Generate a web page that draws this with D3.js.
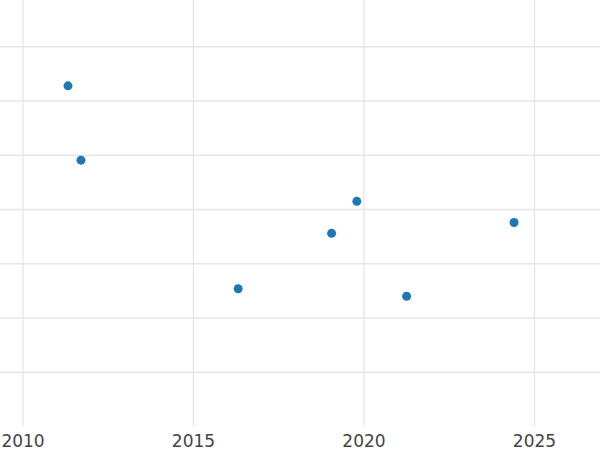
<!DOCTYPE html>
<html>
<head>
<meta charset="utf-8">
<script src="https://cdn.jsdelivr.net/npm/d3@7"></script>
<style>
	body { margin: 0; background: #fff; }
	svg { display: block; }
	.xAxis text { font-family: "DejaVu Sans", sans-serif; font-size: 17px; fill: #444; }
</style>
</head>
<body>
<div id="chart"></div>
<script>
//////////////////////////// data /////////////////////////////////////////

const years = [2011.32, 2011.70, 2016.31, 2019.79, 2019.05, 2024.40, 2021.25];
const values = [6.28, 4.91, 2.54, 4.15, 3.56, 3.76, 2.40];
const xTicks = [2010, 2015, 2020, 2025];
const yTicks = [1, 2, 3, 4, 5, 6, 7];

const data = years.map((d, i) => ({ year: d, value: values[i] }));

//////////////////////////// sizes ///////////////////////////////////////

const dimensions = {
	width: 600,
	height: 450,
	margin: { top: 0, right: 0, bottom: 23.5, left: 0 }
};
dimensions.boundedWidth = dimensions.width - dimensions.margin.left - dimensions.margin.right;
dimensions.boundedHeight = dimensions.height - dimensions.margin.top - dimensions.margin.bottom;

//////////////////////////// svg /////////////////////////////////////////

const svg = d3.select("#chart").append("svg")
	.attr("width", dimensions.width)
	.attr("height", dimensions.height);

const bounds = svg.append("g")
	.attr("transform", `translate(${dimensions.margin.left},${dimensions.margin.top})`);

//////////////////////////// scales //////////////////////////////////////

const xScale = d3.scaleLinear()
	.domain([2009.3255, 2026.921])
	.range([0, dimensions.boundedWidth]);

// value 0 sits on the bottom edge, one unit = 54.25px
const yScale = d3.scaleLinear()
	.domain([0, dimensions.boundedHeight / 54.25])
	.range([dimensions.boundedHeight, 0]);

//////////////////////////// axes / grid /////////////////////////////////

const yAxis = bounds.append("g")
	.attr("class", "yAxis")
	.call(d3.axisLeft(yScale).tickValues(yTicks).tickSize(-dimensions.boundedWidth).tickFormat("").offset(0));

const xAxis = bounds.append("g")
	.attr("class", "xAxis")
	.attr("transform", `translate(0,${dimensions.boundedHeight})`)
	.call(d3.axisBottom(xScale).tickValues(xTicks).tickSize(-dimensions.boundedHeight).tickFormat(d3.format("d")).offset(0));

bounds.selectAll(".domain").remove();
bounds.selectAll(".tick line").attr("stroke", "#e6e6e6").attr("stroke-width", 1.3);
xAxis.selectAll("text").attr("y", 20.5).attr("dy", "0");

//////////////////////////// plot ////////////////////////////////////////

bounds.selectAll(".dots")
	.data(data)
	.enter()
	.append("circle")
	.attr("class", "dots")
	.attr("cx", (d) => xScale(d.year))
	.attr("cy", (d) => yScale(d.value))
	.attr("r", 4.5)
	.attr("fill", "#1f77b4");
</script>
</body>
</html>
